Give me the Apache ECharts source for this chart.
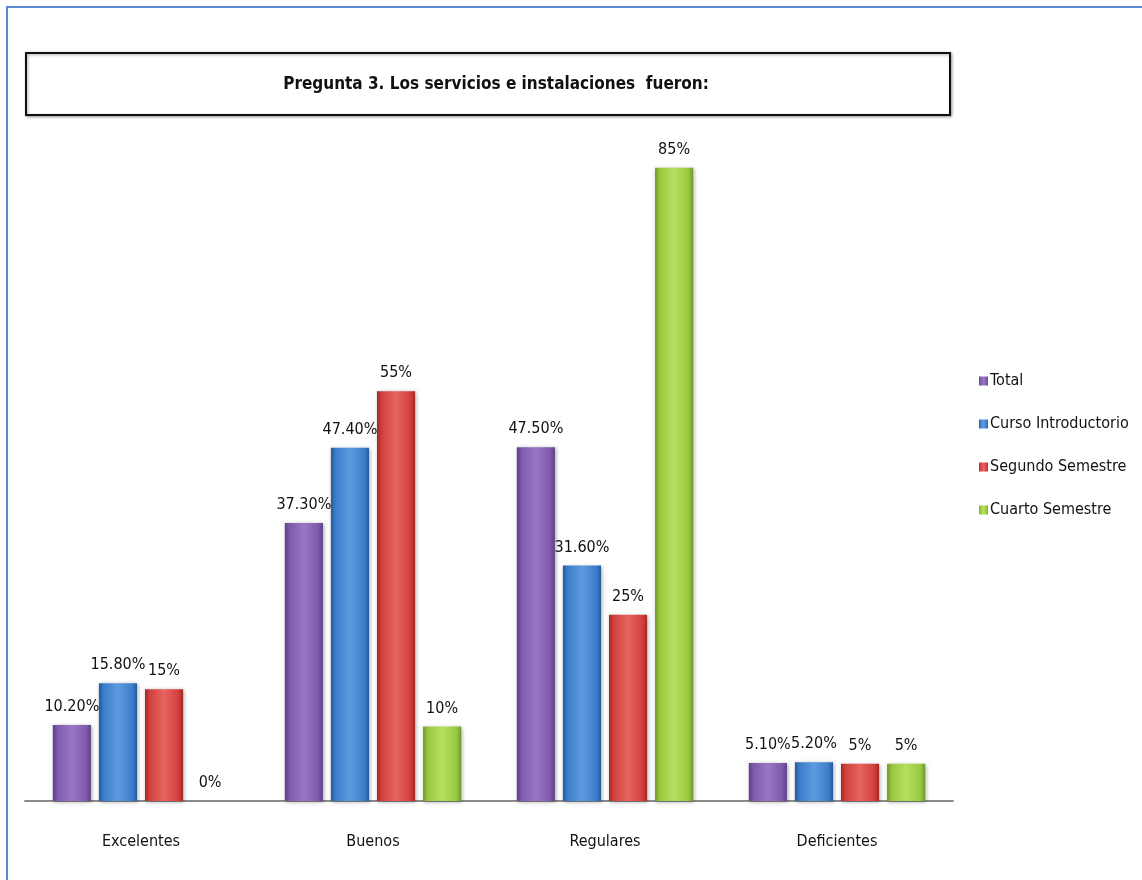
<!DOCTYPE html>
<html>
<head>
<meta charset="utf-8">
<script src="https://cdn.jsdelivr.net/npm/echarts@6/dist/echarts.min.js"></script>
<style>
  html, body { margin: 0; padding: 0; background: #fff; }
  #frame {
    position: absolute; left: 6px; top: 6px; width: 1200px; height: 900px;
    border-left: 2px solid #5a8ad0; border-top: 2px solid #5a8ad0;
    box-sizing: border-box; pointer-events: none; z-index: 2;
  }
  #chart { position: absolute; left: 0; top: 0; width: 1142px; height: 880px; }
</style>
</head>
<body>
<div id="chart"></div>
<div id="frame"></div>
<script>
// Survey answers, percentages per group
const categories = ['Excelentes', 'Buenos', 'Regulares', 'Deficientes'];
const seriesNames = ['Total', 'Curso Introductorio', 'Segundo Semestre', 'Cuarto Semestre'];
const totalValues = [10.2, 37.3, 47.5, 5.1];
const cursoValues = [15.8, 47.4, 31.6, 5.2];
const segundoValues = [15, 55, 25, 5];
const cuartoValues = [0, 10, 85, 5];
const labelDecimals = [2, 2, 0, 0];

const titleText = 'Pregunta 3. Los servicios e instalaciones  fueron:';
const FONT = "'DejaVu Sans Condensed', 'Liberation Sans Narrow', 'Liberation Sans', sans-serif";

const palette = [
  { dark: '#5e3f86', mid: '#7e5aab', light: '#9a78c4' },
  { dark: '#22599c', mid: '#3b7cc9', light: '#5e9be0' },
  { dark: '#a02826', mid: '#d23f3c', light: '#e66461' },
  { dark: '#70982a', mid: '#98c83f', light: '#b4de60' }
];

function barFill(c) {
  return new echarts.graphic.LinearGradient(0, 0, 1, 0, [
    { offset: 0, color: c.dark },
    { offset: 0.12, color: c.mid },
    { offset: 0.5, color: c.light },
    { offset: 0.88, color: c.mid },
    { offset: 1, color: c.dark }
  ]);
}

const allValues = [totalValues, cursoValues, segundoValues, cuartoValues];

const series = allValues.map((vals, i) => ({
  name: seriesNames[i],
  type: 'bar',
  data: vals,
  barGap: '21%',
  barCategoryGap: '24%',
  itemStyle: {
    color: barFill(palette[i]),
    shadowColor: 'rgba(0,0,0,0.35)',
    shadowBlur: 4,
    shadowOffsetX: 1,
    shadowOffsetY: 1
  },
  label: {
    show: true,
    position: 'top',
    distance: 10,
    fontFamily: FONT,
    fontSize: 16,
    color: '#111',
    formatter: p => p.value.toFixed(labelDecimals[i]) + '%'
  }
}));

const chart = echarts.init(document.getElementById('chart'), null, { renderer: 'canvas' });
chart.setOption({
  animation: false,
  backgroundColor: '#fff',
  color: palette.map(c => c.mid),
  grid: { left: 25, right: 189, top: 130.5, bottom: 79, containLabel: false },
  xAxis: {
    type: 'category',
    data: categories,
    axisLine: { show: true, lineStyle: { color: '#8c8c8c', width: 2 } },
    axisTick: { show: false },
    axisLabel: { margin: 33, fontFamily: FONT, fontSize: 16, color: '#111' }
  },
  yAxis: {
    type: 'value', min: 0, max: 90, show: false,
    splitLine: { show: false }
  },
  legend: {
    orient: 'vertical',
    left: 974,
    top: 368,
    itemWidth: 9,
    itemHeight: 9,
    itemGap: 27,
    icon: 'rect',
    data: seriesNames,
    textStyle: { fontFamily: FONT, fontSize: 16, color: '#111', padding: [0, 0, 0, -3] }
  },
  graphic: [
    {
      type: 'rect',
      shape: { x: 26, y: 53, width: 924, height: 62 },
      style: {
        fill: '#fff', stroke: '#111', lineWidth: 2,
        shadowColor: 'rgba(0,0,0,0.35)', shadowBlur: 3, shadowOffsetX: 1, shadowOffsetY: 1
      },
      z: 10
    },
    {
      type: 'text',
      x: 496, y: 85,
      style: {
        text: titleText,
        fontFamily: FONT, fontSize: 17, fontWeight: 'bold', fill: '#111',
        align: 'center', verticalAlign: 'middle'
      },
      z: 11
    }
  ],
  series: series
});
</script>
</body>
</html>
